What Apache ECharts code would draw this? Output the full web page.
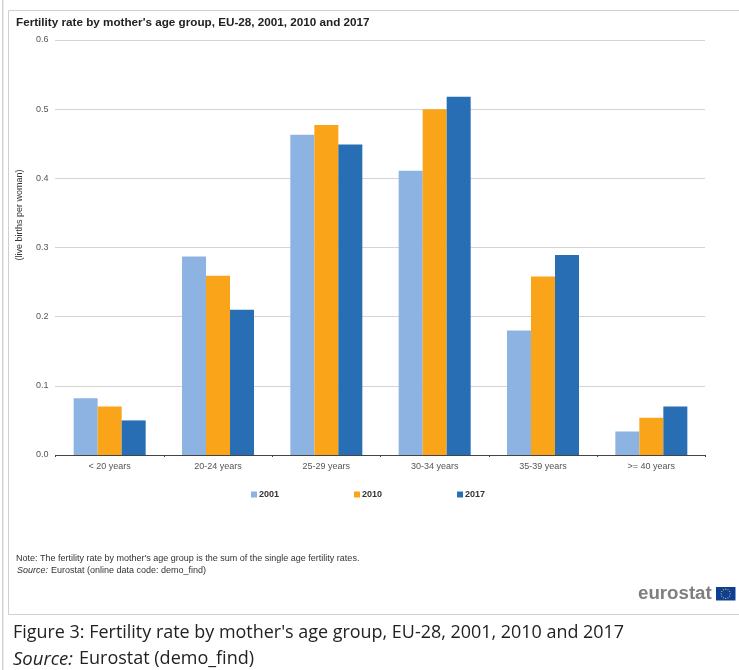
<!DOCTYPE html>
<html>
<head>
<meta charset="utf-8">
<style>html,body{margin:0;padding:0;background:#fff}#chart{width:739px;height:670px}</style>
<script src="https://cdn.jsdelivr.net/npm/echarts@6/dist/echarts.min.js"></script>
</head>
<body>
<div id="chart"></div>
<script>
const ageGroups = ['< 20 years', '20-24 years', '25-29 years', '30-34 years', '35-39 years', '>= 40 years'];
const rate2001 = [0.082, 0.287, 0.463, 0.411, 0.180, 0.034];
const rate2010 = [0.070, 0.259, 0.477, 0.500, 0.258, 0.054];
const rate2017 = [0.050, 0.210, 0.449, 0.518, 0.289, 0.070];

const ARIAL = '"Liberation Sans", Arial, sans-serif';
const OPEN = '"Open Sans", sans-serif';

function barSeries(name, data, color) {
  return { name, type: 'bar', data, barWidth: 24, barGap: 0,
    itemStyle: { color }, emphasis: { disabled: true } };
}

// Twelve gold stars of the EU flag, laid out on a ring
const flagStars = Array.from({ length: 12 }, (_, i) => {
  const a = i * Math.PI / 6;
  return { type: 'circle',
    shape: { cx: 725.7 + 4.6 * Math.cos(a), cy: 593.8 + 4.6 * Math.sin(a), r: 0.6 },
    style: { fill: '#d9c63a' }, silent: true };
});

const chart = echarts.init(document.getElementById('chart'), null, { renderer: 'canvas' });
chart.setOption({
  animation: false,
  backgroundColor: '#fff',
  grid: { left: 55.5, right: 33.5, top: 40, height: 415, containLabel: false },
  legend: {
    left: 251, top: 490, padding: 0, itemWidth: 6, itemHeight: 6, itemGap: 75, icon: 'rect',
    selectedMode: false,
    textStyle: { fontFamily: ARIAL, fontSize: 9, fontWeight: 'bold', color: '#333', padding: [0, 0, 0, -3] },
    data: ['2001', '2010', '2017']
  },
  xAxis: {
    type: 'category', data: ageGroups,
    axisLine: { lineStyle: { color: '#444', width: 1 } },
    axisTick: { show: true, length: 2, lineStyle: { color: '#444' } },
    axisLabel: { fontFamily: ARIAL, fontSize: 9, color: '#555', margin: 7, interval: 0 }
  },
  yAxis: {
    type: 'value', min: 0, max: 0.6, interval: 0.1,
    axisLine: { show: false }, axisTick: { show: false },
    axisLabel: { fontFamily: ARIAL, fontSize: 9, color: '#555', margin: 7,
      formatter: v => v.toFixed(1) },
    splitLine: { lineStyle: { color: '#a8a8a8', type: [1, 1], width: 1 } }
  },
  series: [
    barSeries('2001', rate2001, '#8db3e2'),
    barSeries('2010', rate2010, '#faa519'),
    barSeries('2017', rate2017, '#286eb4')
  ],
  graphic: [
    { type: 'rect', shape: { x: 2, y: 0, width: 1.5, height: 670 }, style: { fill: '#d4d4d4' }, silent: true },
    { type: 'rect', shape: { x: 8.5, y: 10.5, width: 740, height: 604 },
      style: { fill: 'none', stroke: '#d0d0d0', lineWidth: 1 }, silent: true, z: -1 },
    { type: 'text', x: 16, y: 17, style: { text: "Fertility rate by mother's age group, EU-28, 2001, 2010 and 2017",
        font: 'bold 11.7px ' + ARIAL, fill: '#222' }, silent: true },
    { type: 'text', x: 20, y: 215, rotation: Math.PI / 2,
      style: { text: '(live births per woman)', font: '9px ' + ARIAL, fill: '#333',
        align: 'center', verticalAlign: 'middle' }, silent: true },
    { type: 'text', x: 16, y: 554, style: { text: "Note: The fertility rate by mother's age group is the sum of the single age fertility rates.",
        font: '9px ' + ARIAL, fill: '#333' }, silent: true },
    { type: 'text', x: 17, y: 566, style: { text: 'Source:', font: 'italic 9px ' + ARIAL, fill: '#333' }, silent: true },
    { type: 'text', x: 51, y: 566, style: { text: 'Eurostat (online data code: demo_find)', font: '9px ' + ARIAL, fill: '#333' }, silent: true },
    { type: 'text', x: 638, y: 584, style: { text: 'eurostat', font: 'bold 18.7px ' + ARIAL, fill: '#7f7f7f' }, silent: true },
    { type: 'rect', shape: { x: 716, y: 587, width: 19.5, height: 13.5 }, style: { fill: '#0f3f94' }, silent: true },
    ...flagStars,
    { type: 'text', x: 13, y: 624, style: { text: "Figure 3: Fertility rate by mother's age group, EU-28, 2001, 2010 and 2017",
        font: '17.95px ' + OPEN, fill: '#222' }, silent: true },
    { type: 'text', x: 13, y: 650, style: { text: 'Source:', font: 'italic 18.5px ' + OPEN, fill: '#222' }, silent: true },
    { type: 'text', x: 79, y: 650, style: { text: 'Eurostat (demo_find)', font: '18px ' + OPEN, fill: '#222' }, silent: true }
  ]
});
</script>
</body>
</html>
